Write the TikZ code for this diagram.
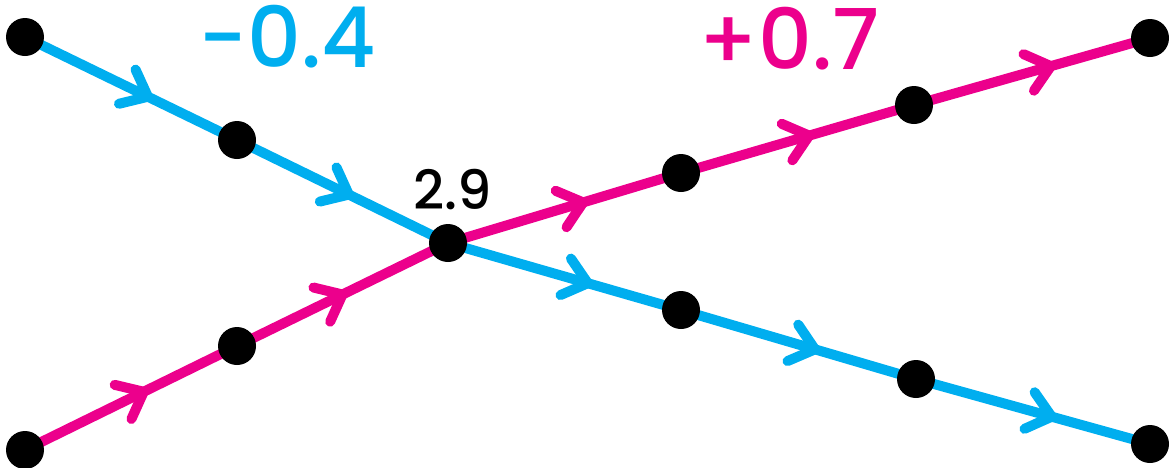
\documentclass[tikz,border=0pt]{standalone}
\usepackage{fontspec}
\setmainfont{Poppins}
\newfontfamily\popmed{Poppins Medium}
\usetikzlibrary{decorations.markings,backgrounds}
\definecolor{cyanl}{HTML}{00AEEF}
\definecolor{magl}{HTML}{EC008C}
\tikzset{
  dot/.style={circle,fill=black,inner sep=0pt,minimum size=38pt},
  chev/.style={decoration={markings,mark=at position #1 with {
      \draw[line width=10pt,line cap=round,line join=round] (-23pt,19pt) -- (0,0) -- (-23pt,-19pt);}},
      postaction={decorate}},
  edge/.style={line width=10pt,chev=#1},
  cyanedge/.style={edge=#1,draw=cyanl,color=cyanl},
  magedge/.style={edge=#1,draw=magl,color=magl},
}
\begin{document}
\begin{tikzpicture}[x=1pt,y=-1pt]
\useasboundingbox (0,0) rectangle (1172,467);
% blue chain
\node[dot] (b1) at (25,37) {};
\node[dot] (b2) at (237,140) {};
\node[dot] (c)  at (448,243) {};
\node[dot] (b4) at (681,310) {};
\node[dot] (b5) at (916,379) {};
\node[dot] (b6) at (1150,444) {};
% magenta chain
\node[dot] (m1) at (25,450) {};
\node[dot] (m2) at (237,346) {};
\node[dot] (m4) at (681,173) {};
\node[dot] (m5) at (914,105) {};
\node[dot] (m6) at (1150,38) {};
\begin{scope}[on background layer]
\draw[cyanedge=0.58] (b1.center) -- (b2.center);
\draw[cyanedge=0.53] (b2.center) -- (c.center);
\draw[cyanedge=0.60] (c.center) -- (b4.center);
\draw[cyanedge=0.57] (b4.center) -- (b5.center);
\draw[cyanedge=0.58] (b5.center) -- (b6.center);
\draw[magedge=0.56] (m1.center) -- (m2.center);
\draw[magedge=0.50] (m2.center) -- (c.center);
\draw[magedge=0.58] (c.center) -- (m4.center);
\draw[magedge=0.55] (m4.center) -- (m5.center);
\draw[magedge=0.58] (m5.center) -- (m6.center);
\end{scope}
\node[text=cyanl,font=\popmed\fontsize{84}{84}\selectfont,inner sep=0pt] (lneg) at (287,37) {−0.4};
\node[text=magl,font=\popmed\fontsize{84}{84}\selectfont,inner sep=0pt] (lpos) at (789,39) {+0.7};
\node[text=black,font=\popmed\fontsize{54}{54}\selectfont,inner sep=0pt] (lmid) at (453,190) {2.9};
\end{tikzpicture}
\end{document}
